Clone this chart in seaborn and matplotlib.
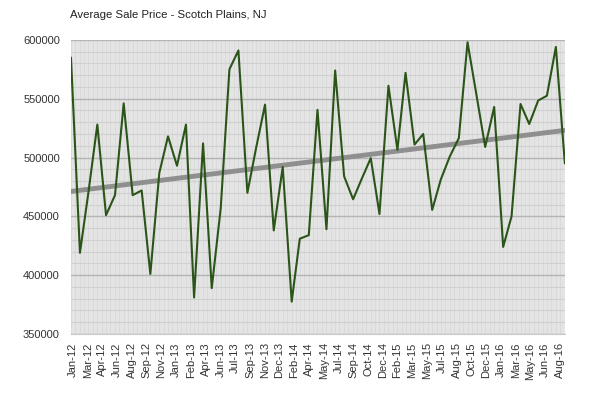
import pandas as pd
import numpy as np
import matplotlib
matplotlib.use("Agg")
import matplotlib.pyplot as plt
import matplotlib.dates as mdates
from matplotlib.ticker import MultipleLocator
import seaborn as sns

# monthly average sale price, Jan-12 .. Sep-16
months = pd.date_range("2012-01-01", "2016-09-01", freq="MS")
prices = [585000, 419000, 470000, 528000, 451000, 468000, 546000, 468000,
          472000, 401000, 487000, 518000, 493000, 528000, 381000, 512000,
          389000, 457000, 575000, 591000, 470000, 508000, 545000, 438000,
          492000, 377500, 431000, 434000, 540500, 439000, 574000, 484000,
          464500, 482000, 499500, 452000, 561000, 506500, 572000, 511000,
          520000, 455500, 481500, 501000, 516500, 598000, 553000, 509000,
          543000, 424000, 450000, 545500, 528500, 548500, 552500, 594000,
          495000]

tick_labels = ["Jan-12", "Mar-12", "Apr-12", "Jun-12", "Aug-12", "Sep-12",
               "Nov-12", "Jan-13", "Feb-13", "Apr-13", "Jun-13", "Jul-13",
               "Sep-13", "Nov-13", "Dec-13", "Feb-14", "Apr-14", "May-14",
               "Jul-14", "Sep-14", "Oct-14", "Dec-14", "Feb-15", "Mar-15",
               "May-15", "Jul-15", "Aug-15", "Oct-15", "Dec-15", "Jan-16",
               "Mar-16", "May-16", "Jun-16", "Aug-16"]

df = pd.DataFrame({"x": mdates.date2num(months), "price": prices})

sns.set_style("white")
plt.rcParams["font.family"] = ["Liberation Sans", "DejaVu Sans"]

fig = plt.figure(figsize=(5.89, 3.99), dpi=100)
ax = fig.add_axes([0.1205, 0.163, 0.8385, 0.737])
ax.set_facecolor("#e4e4e4")

sns.regplot(data=df, x="x", y="price", scatter=False, ci=None, ax=ax,
            line_kws={"color": "#8f8f8f", "lw": 3.5, "zorder": 3})
sns.lineplot(data=df, x="x", y="price", ax=ax, color="#2b5418", lw=1.5,
             zorder=4)

x0, x1 = df["x"].iloc[0], df["x"].iloc[-1]
ax.set_xlim(x0, x1)
ax.set_ylim(350000, 600000)

# grid
ax.yaxis.set_major_locator(MultipleLocator(50000))
ax.yaxis.set_minor_locator(MultipleLocator(10000))
ax.xaxis.set_minor_locator(mdates.DayLocator(bymonthday=[1, 16]))
ax.grid(which="major", axis="y", color="#b4b4b4", lw=1.0, zorder=0)
ax.grid(which="minor", axis="y", color="#d0d0d0", lw=0.8, zorder=0)
ax.grid(which="minor", axis="x", color="#d6d6d6", lw=0.5, zorder=0)
ax.set_axisbelow(True)

# date labels are spread evenly along the axis, like the original
tick_pos = x0 + (x1 - x0) * np.linspace(0.004, 0.99, len(tick_labels))
ax.set_xticks(tick_pos)
ax.set_xticklabels(tick_labels, rotation=90, fontsize=8, color="#333333")
ax.tick_params(axis="y", labelsize=8, labelcolor="#333333")
ax.tick_params(which="both", length=0)
ax.tick_params(axis="x", pad=6)
ax.tick_params(axis="y", pad=8)
ax.set_yticks(np.arange(350000, 600001, 50000))
ax.set_yticklabels([str(v) for v in range(350000, 600001, 50000)])

ax.set_xlabel("")
ax.set_ylabel("")
for side in ["top", "right", "left"]:
    ax.spines[side].set_visible(False)
ax.spines["bottom"].set_color("#c8c8c8")

fig.text(0.119, 0.962, "Average Sale Price - Scotch Plains, NJ",
         fontsize=8.2, color="#222222", ha="left", va="center")

fig.savefig("out.png", dpi=100)
